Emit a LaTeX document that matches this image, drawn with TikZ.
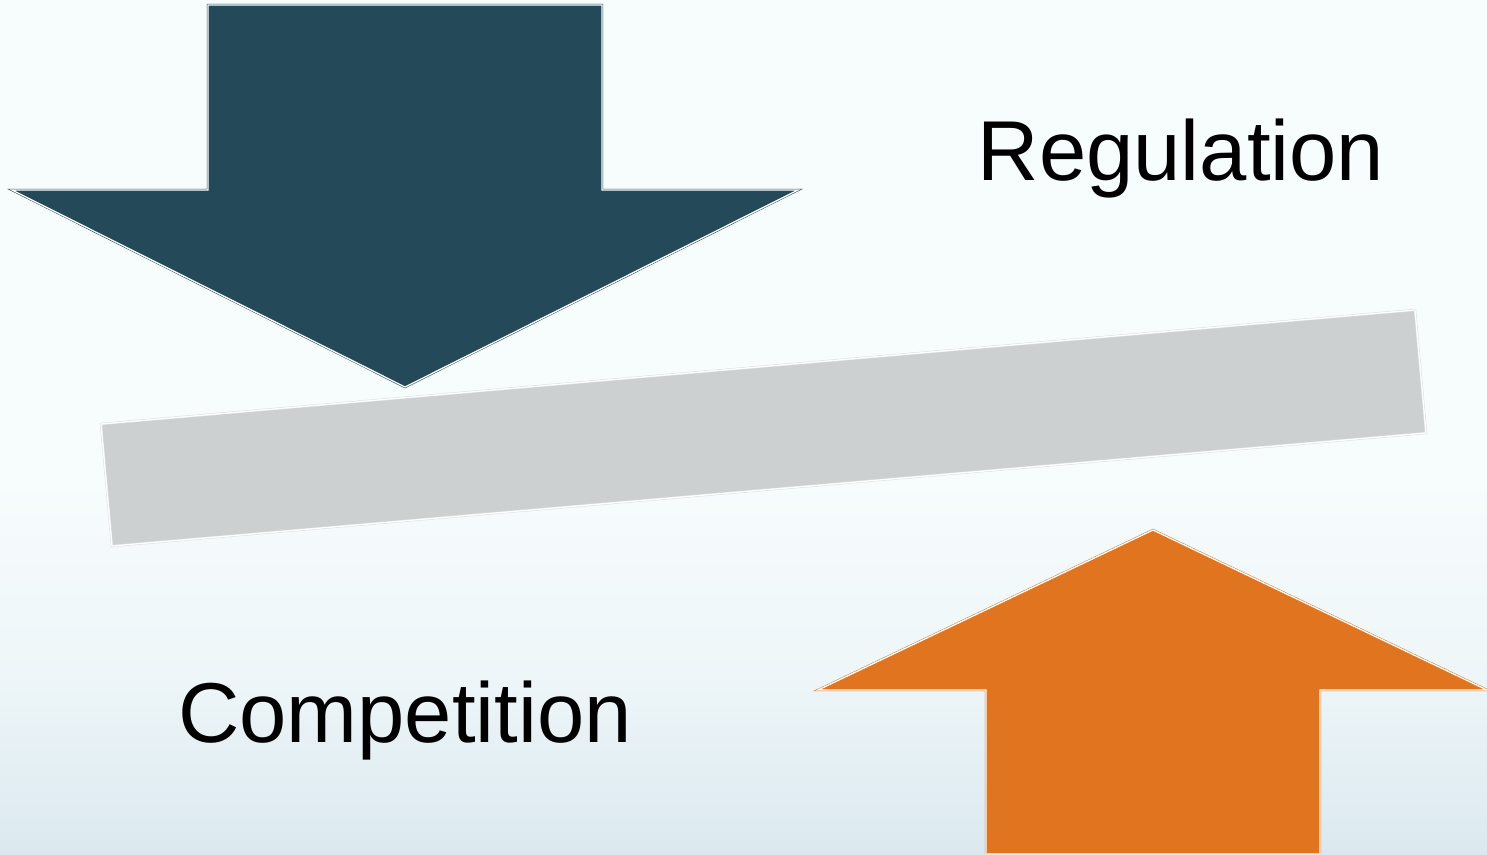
\documentclass[tikz,border=0pt]{standalone}
\usepackage{fontspec}
\setmainfont{Liberation Sans}
\definecolor{bgtop}{HTML}{F7FCFD}
\definecolor{bgbot}{HTML}{DBE9EF}
\definecolor{darkarrow}{HTML}{244A59}
\definecolor{orangearrow}{HTML}{E1751F}
\definecolor{barfill}{HTML}{CDD0D1}
\tikzset{
  shapeline/.style={line width=0.5pt, double=white, double distance=1.3pt, line join=miter},
  label/.style={font=\fontsize{85}{100}\selectfont, text=black, inner sep=0pt, anchor=base},
}
\begin{document}
\begin{tikzpicture}[x=1pt,y=-1pt]
\useasboundingbox (0,0) rectangle (1487,854);
% background
\fill[bgtop] (0,0) rectangle (1487,480);
\shade[top color=bgtop, bottom color=bgbot, middle color=bgtop!70!bgbot] (0,480) rectangle (1487,854);
\fill[bgtop] (0,470) rectangle (1487,481);
% bar
\filldraw[shapeline, draw=barfill!70!white, fill=barfill]
  (101,424) -- (1415,310) -- (1426,433) -- (112,546) -- cycle;
% dark down arrow
\filldraw[shapeline, draw=darkarrow, fill=darkarrow]
  (208,5) -- (602,5) -- (602,190) -- (798,190) -- (405,387) -- (12,190) -- (208,190) -- cycle;
% orange up arrow
\filldraw[shapeline, draw=orangearrow, fill=orangearrow]
  (986,853) -- (986,690) -- (818,690) -- (1153,530) -- (1487,690) -- (1320,690) -- (1320,853);
% labels
\node[label] (reg) at (1181,180) {Regulation};
\node[label] (comp) at (405,742) {Competition};
\end{tikzpicture}
\end{document}
